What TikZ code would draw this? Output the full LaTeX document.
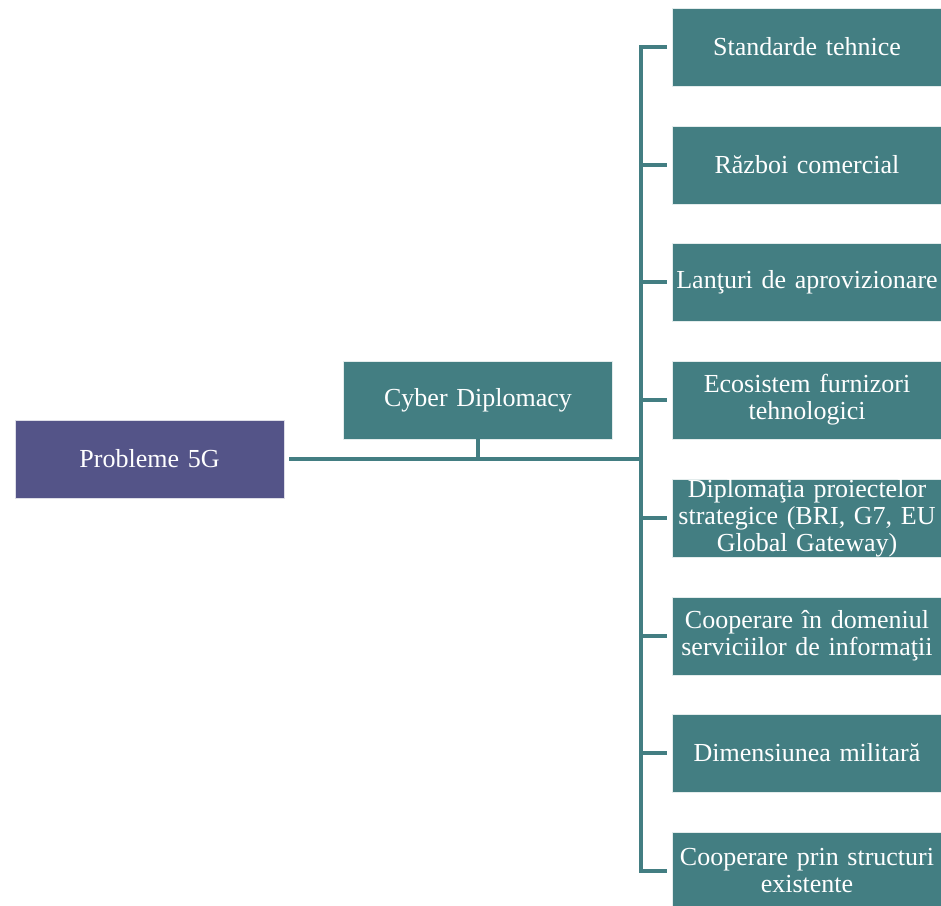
\documentclass[tikz,border=0pt]{standalone}
\usepackage{fontspec}
\setmainfont{Liberation Serif}
\definecolor{teal5g}{RGB}{67,126,130}
\definecolor{purp5g}{RGB}{84,84,136}
\tikzset{
  box/.style={rectangle, draw=white!85!teal5g, line width=0.8pt, fill=teal5g, text=white,
    minimum width=269pt, minimum height=78pt, text width=264pt, inner xsep=2.5pt, inner ysep=0pt,
    align=center, font=\fontsize{26}{27}\selectfont},
  rootbox/.style={box, fill=purp5g, draw=white!80!purp5g},
  conn/.style={draw=teal5g, line width=4pt, line join=miter}
}
\begin{document}
\begin{tikzpicture}[x=1pt,y=-1pt]
\useasboundingbox (0,0) rectangle (941,905);
\clip (0,0) rectangle (941,905);
\node[rootbox] (p) at (149.5,459) {Probleme 5G};
\node[box] (cd) at (478,400) {Cyber Diplomacy};
\node[box] (r1) at (807,47) {Standarde tehnice};
\node[box] (r2) at (807,165) {Război comercial};
\node[box] (r3) at (807,282) {Lanţuri de aprovizionare};
\node[box] (r4) at (807,400) {Ecosistem furnizori\\tehnologici};
\node[box] (r5) at (807,518) {Diplomaţia proiectelor\\strategice (BRI, G7, EU\\Global Gateway)};
\node[box] (r6) at (807,636) {Cooperare în domeniul\\serviciilor de informaţii};
\node[box] (r7) at (807,753) {Dimensiunea militară};
\node[box] (r8) at (807,871) {Cooperare prin structuri\\existente};
\coordinate (hub) at (641,459);
\draw[conn] ([xshift=5pt]p.east) -- (hub);
\draw[conn] ([yshift=5pt]cd.south) -- (cd.south |- hub);
\draw[conn] ([xshift=-5pt]r1.west) -- (hub |- r1) -- (hub |- r8) -- ([xshift=-5pt]r8.west);
\foreach \k in {2,...,7} {
  \draw[conn] (hub |- r\k) -- ([xshift=-5pt]r\k.west);
}
\end{tikzpicture}
\end{document}
